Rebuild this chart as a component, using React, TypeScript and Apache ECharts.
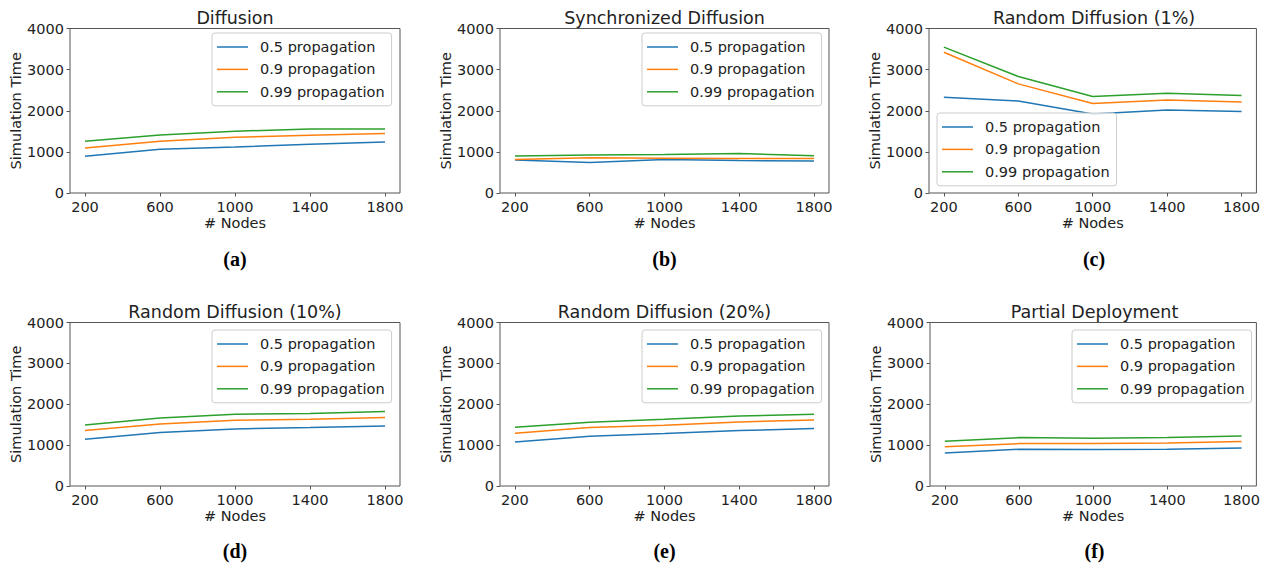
import React, { useEffect, useRef } from "react";
import * as echarts from "echarts";

const nodes = [200, 600, 1000, 1400, 1800];
const seriesNames = ["0.5 propagation", "0.9 propagation", "0.99 propagation"];
const panelTitles = [
  "Diffusion",
  "Synchronized Diffusion",
  "Random Diffusion (1%)",
  "Random Diffusion (10%)",
  "Random Diffusion (20%)",
  "Partial Deployment",
];
const panelLabels = ["(a)", "(b)", "(c)", "(d)", "(e)", "(f)"];

// (a) Diffusion
const diffusion05 = [892, 1063, 1120, 1185, 1241];
const diffusion09 = [1095, 1258, 1355, 1404, 1444];
const diffusion099 = [1258, 1412, 1501, 1558, 1558];
// (b) Synchronized Diffusion
const syncDiffusion05 = [800, 743, 816, 792, 776];
const syncDiffusion09 = [816, 857, 848, 840, 840];
const syncDiffusion099 = [897, 921, 937, 962, 905];
// (c) Random Diffusion (1%)
const random1_05 = [2329, 2239, 1923, 2020, 1980];
const random1_09 = [3424, 2653, 2174, 2264, 2215];
const random1_099 = [3546, 2832, 2345, 2426, 2369];
// (d) Random Diffusion (10%)
const random10_05 = [1143, 1306, 1396, 1429, 1469];
const random10_09 = [1355, 1518, 1608, 1633, 1673];
const random10_099 = [1494, 1665, 1755, 1771, 1820];
// (e) Random Diffusion (20%)
const random20_05 = [1078, 1216, 1282, 1355, 1404];
const random20_09 = [1290, 1429, 1486, 1567, 1616];
const random20_099 = [1437, 1559, 1633, 1714, 1755];
// (f) Partial Deployment
const partial05 = [808, 898, 890, 898, 931];
const partial09 = [963, 1037, 1037, 1053, 1086];
const partial099 = [1094, 1184, 1167, 1184, 1224];

const panelData = [
  [diffusion05, diffusion09, diffusion099],
  [syncDiffusion05, syncDiffusion09, syncDiffusion099],
  [random1_05, random1_09, random1_099],
  [random10_05, random10_09, random10_099],
  [random20_05, random20_09, random20_099],
  [partial05, partial09, partial099],
];

const colors = ["#1f77b4", "#ff7f0e", "#2ca02c"];
const FONT = "DejaVu Sans";

// layout (pixels)
const gridBoxes = [
  { left: 70, top: 28.5, width: 330, height: 164.5 },
  { left: 500, top: 28.5, width: 329, height: 164.5 },
  { left: 929, top: 28.5, width: 330, height: 164.5 },
  { left: 70, top: 322.5, width: 330, height: 163.5 },
  { left: 500, top: 322.5, width: 329, height: 163.5 },
  { left: 930, top: 322.5, width: 329, height: 163.5 },
];
const legendPos = [
  { left: 212, top: 33 },
  { left: 642, top: 33 },
  { left: 937, top: 113 },
  { left: 212, top: 330 },
  { left: 642, top: 330 },
  { left: 1072, top: 330 },
];
const labelY = [259, 259, 259, 551, 551, 551];

export default function App() {
  const ref = useRef<HTMLDivElement>(null);
  useEffect(() => {
    if (!ref.current) return;
    const chart = echarts.init(ref.current, null, { renderer: "svg" });
    const grid: any[] = [];
    const xAxis: any[] = [];
    const yAxis: any[] = [];
    const series: any[] = [];
    const title: any[] = [];
    const legend: any[] = [];
    const graphic: any[] = [];
    const axisColor = "#555555";
    const textColor = "#222222";

    gridBoxes.forEach((g, i) => {
      grid.push({
        left: g.left,
        top: g.top,
        width: g.width,
        height: g.height,
        show: true,
        borderColor: axisColor,
        borderWidth: 1,
        backgroundColor: "transparent",
        containLabel: false,
      });
      xAxis.push({
        type: "value",
        gridIndex: i,
        min: 120,
        max: 1880,
        name: "# Nodes",
        nameLocation: "middle",
        nameGap: 22,
        nameTextStyle: { fontFamily: FONT, fontSize: 14.5, color: textColor },
        axisLine: { show: false },
        splitLine: { show: false },
        axisTick: {
          show: true,
          inside: false,
          length: 3.5,
          customValues: nodes,
          lineStyle: { color: axisColor, width: 1 },
        },
        axisLabel: {
          customValues: nodes,
          margin: 6,
          fontFamily: FONT,
          fontSize: 14.5,
          color: textColor,
          formatter: (v: number) => String(v),
        },
      });
      yAxis.push({
        type: "value",
        gridIndex: i,
        min: 0,
        max: 4000,
        interval: 1000,
        name: "Simulation Time",
        nameLocation: "middle",
        nameGap: 44,
        nameTextStyle: { fontFamily: FONT, fontSize: 14.5, color: textColor },
        axisLine: { show: false },
        splitLine: { show: false },
        axisTick: {
          show: true,
          length: 3.5,
          lineStyle: { color: axisColor, width: 1 },
        },
        axisLabel: {
          margin: 6,
          fontFamily: FONT,
          fontSize: 14.5,
          color: textColor,
          formatter: (v: number) => String(v),
        },
      });
      panelData[i].forEach((vals, s) => {
        series.push({
          type: "line",
          name: seriesNames[s],
          xAxisIndex: i,
          yAxisIndex: i,
          data: nodes.map((n, k) => [n, vals[k]]),
          showSymbol: false,
          symbol: "none",
          lineStyle: { color: colors[s], width: 1.5 },
          itemStyle: { color: colors[s] },
          z: 2 + s,
        });
      });
      title.push({
        text: panelTitles[i],
        left: g.left + g.width / 2,
        textAlign: "center",
        top: g.top - 20,
        textStyle: {
          fontFamily: FONT,
          fontSize: 17.5,
          fontWeight: "normal",
          color: textColor,
        },
        padding: 0,
      });
      legend.push({
        orient: "vertical",
        left: legendPos[i].left,
        top: legendPos[i].top,
        data: seriesNames,
        icon: "rect",
        itemWidth: 31,
        itemHeight: 1.5,
        itemGap: 6.4,
        padding: [6, 7, 6, 5],
        backgroundColor: "rgba(255,255,255,0.8)",
        borderColor: "#cccccc",
        borderWidth: 1,
        borderRadius: 3,
        selectedMode: false,
        textStyle: {
          fontFamily: FONT,
          fontSize: 14.5,
          color: textColor,
          lineHeight: 16,
          padding: [0, 0, 0, 7],
        },
      });
      graphic.push({
        type: "text",
        x: g.left + g.width / 2,
        y: labelY[i],
        style: {
          text: panelLabels[i],
          textAlign: "center",
          textVerticalAlign: "middle",
          fontFamily: "Liberation Serif",
          fontWeight: "bold",
          fontSize: 20,
          fill: "#000000",
        },
      });
    });

    chart.setOption({
      animation: false,
      backgroundColor: "#ffffff",
      grid,
      xAxis,
      yAxis,
      series,
      title,
      legend,
      graphic,
    });
    return () => chart.dispose();
  }, []);
  return (
    <div
      ref={ref}
      style={{ position: "fixed", left: 0, top: 0, width: 1263, height: 567 }}
    />
  );
}
